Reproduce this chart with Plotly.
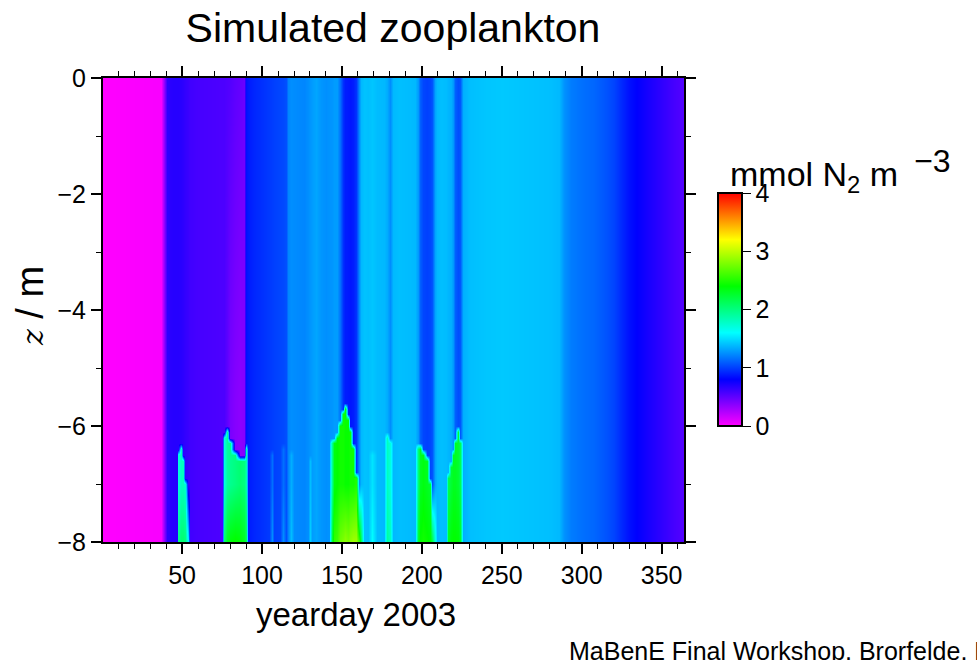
import plotly.graph_objects as go

# ---- concentration in the upper water column, per model output day ----
yearday = [0, 37, 40.5, 44, 46.5, 47.5, 49, 50.5, 52, 53.5,
           55, 60, 68, 75, 76.5, 78, 80, 83, 86, 88.5,
           89.7, 91, 95, 100, 104.5, 106, 107.5, 111.5, 113, 115,
           116.5, 118, 120, 126, 128.5, 130, 131.5, 134, 137, 140,
           142, 143.5, 145, 147, 149, 150.5, 152, 153.5, 155, 157,
           159, 160.5, 162, 163.5, 166, 169, 172, 176, 178, 180,
           182, 186, 192, 196, 197.5, 199, 201, 203, 205, 206.5,
           208, 209.5, 212, 215, 216.5, 218, 219.5, 221, 222.5, 224,
           225.5, 230, 240, 250, 260, 270, 280, 286, 289, 293,
           300, 308, 315, 320, 325, 330, 340, 350, 358, 365]

upper_n = [0.00, 0.02, 0.66, 0.68, 0.68, 0.68, 0.67, 0.66, 0.64, 0.62,
           0.60, 0.58, 0.57, 0.56, 0.56, 0.55, 0.54, 0.51, 0.49, 0.47,
           0.85, 0.88, 0.92, 0.95, 0.98, 0.99, 1.00, 1.02, 1.03, 1.05,
           1.22, 1.25, 1.24, 1.22, 1.25, 1.27, 1.29, 1.32, 1.27, 1.25,
           1.26, 1.27, 1.29, 1.29, 1.15, 0.95, 0.89, 0.88, 0.87, 0.89,
           0.96, 1.24, 1.38, 1.41, 1.40, 1.42, 1.39, 1.38, 1.34, 1.24,
           1.38, 1.40, 1.39, 1.38, 1.28, 1.10, 1.02, 1.00, 1.02, 1.06,
           1.32, 1.38, 1.40, 1.39, 1.37, 1.35, 1.28, 1.10, 1.04, 1.07,
           1.35, 1.40, 1.42, 1.43, 1.42, 1.41, 1.40, 1.38, 1.26, 1.19,
           1.15, 1.12, 1.06, 1.01, 0.92, 0.84, 0.74, 0.65, 0.58, 0.53]

# ---- depleted layer sitting on top of the near-bed maximum ----
cap_day = [78, 80, 83, 86, 88.5]
cap_n = [0.50, 0.42, 0.38, 0.36, 0.38]

# ---- near-bed maxima: top depth (m), value down to 7 m, value at the bed ----
bed_day = [47.5, 49, 50.5, 52, 53.5,
           76.5, 78, 80, 83, 86, 88.5, 89.7,
           106, 113, 118, 130,
           143.5, 145, 147, 149, 150.5, 152, 153.5, 155, 157, 159, 160.5, 162,
           169, 178, 180,
           197.5, 199, 201, 203, 205, 206.5, 208,
           216.5, 218, 219.5, 221, 222.5, 224]
bed_top = [-6.45, -6.4, -6.6, -6.95, -7.6,
           -6.2, -6.1, -6.3, -6.45, -6.55, -6.6, -6.35,
           -6.5, -6.4, -6.5, -6.6,
           -6.3, -6.25, -6.2, -5.95, -5.75, -5.7, -5.9, -6.1, -6.4, -6.9, -7.3, -7.7,
           -6.5, -6.2, -6.3,
           -6.4, -6.35, -6.45, -6.6, -6.95, -7.4, -7.9,
           -6.85, -6.65, -6.45, -6.3, -6.05, -6.25]
bed_plume_n = [1.70, 1.80, 1.80, 1.75, None,
               1.70, 1.90, 1.95, 2.00, 2.05, 2.00, 1.85,
               1.15, 1.15, 1.35, 1.40,
               1.95, 2.35, 2.40, 2.45, 2.45, 2.42, 2.42, 2.45, 2.45, 2.50, None, None,
               1.52, 1.80, 1.70,
               2.05, 2.30, 2.35, 2.30, 2.25, None, None,
               2.15, 2.25, 2.30, 2.30, 2.25, 2.15]
bed_n = [1.95, 2.05, 2.05, 2.00, 1.60,
         2.05, 2.30, 2.38, 2.42, 2.38, 2.30, 2.15,
         1.25, 1.25, 1.40, 1.45,
         2.25, 2.55, 2.60, 2.75, 2.80, 2.85, 2.80, 2.85, 2.90, 2.90, 2.60, 2.10,
         1.60, 1.90, 1.80,
         2.25, 2.42, 2.45, 2.42, 2.38, 2.20, 1.70,
         2.30, 2.38, 2.40, 2.40, 2.38, 2.28]

# model levels (m)
depth = [0.0, -5.6, -5.7, -5.8, -5.9, -6.0, -6.1, -6.2, -6.3, -6.4, -6.5,
         -6.6, -6.7, -6.8, -6.9, -7.0, -8.0]

xticks = [50, 100, 150, 200, 250, 300, 350]
yticks = [0, -2, -4, -6, -8]
cbar_ticks = [0, 1, 2, 3, 4]

# ---- assemble the depth x time field ----
cap = dict(zip(cap_day, cap_n))
bed = {d: (t, p, b) for d, t, p, b in zip(bed_day, bed_top, bed_plume_n, bed_n)}
assert all(d in yearday for d in list(cap) + list(bed))

field = []
for zlev in depth:
    row = []
    for day, top_val in zip(yearday, upper_n):
        low_val = cap.get(day, top_val)
        if zlev == 0.0:
            row.append(top_val)
            continue
        if day in bed:
            t, p, b = bed[day]
            if zlev == -8.0:
                row.append(b)
            elif zlev <= t + 1e-9:
                row.append(p)
            else:
                row.append(low_val)
        else:
            row.append(low_val)
    field.append(row)

rainbow = [[0.0, "#ff00ff"], [0.2, "#0000ff"], [0.4, "#00ffff"],
           [0.6, "#00ff00"], [0.8, "#ffff00"], [1.0, "#ff0000"]]

FONT = "Liberation Sans, Arial, sans-serif"

# plot frame in pixels
L, R, T, B = 103, 684, 78, 542
W, H = 977, 660
pw, ph = R - L, B - T

fig = go.Figure(go.Heatmap(
    x=yearday, y=depth, z=field,
    zmin=0, zmax=4, zsmooth="best",
    colorscale=rainbow,
    colorbar=dict(
        x=(718 - L) / pw, xanchor="left", xpad=0,
        y=0.5 - ((193 + 426) / 2 - (T + B) / 2) / ph, yanchor="middle", ypad=0,
        thickness=24, thicknessmode="pixels",
        len=233, lenmode="pixels",
        outlinewidth=2, outlinecolor="black",
        tickvals=cbar_ticks, ticks="outside", ticklen=8, tickwidth=1,
        tickcolor="black",
        tickfont=dict(family=FONT, size=25, color="black"),
    ),
    hoverinfo="skip",
))

axis_common = dict(
    showline=True, linecolor="black", linewidth=2, mirror="ticks",
    ticks="outside", ticklen=10, tickwidth=1.5, tickcolor="black",
    showgrid=False, zeroline=False,
    tickfont=dict(family=FONT, size=25, color="black"),
)

fig.update_xaxes(range=[0.5, 364], tickvals=xticks,
                 minor=dict(dtick=10, tick0=0, ticks="outside", ticklen=5,
                            tickwidth=1, tickcolor="black", showgrid=False),
                 **axis_common)
fig.update_yaxes(range=[-8, 0], tickvals=yticks,
                 minor=dict(dtick=1, tick0=0, ticks="outside", ticklen=5,
                            tickwidth=1, tickcolor="black", showgrid=False),
                 **axis_common)


def px_x(v):
    return (v - L) / pw


def px_y(v):
    return (B - v) / ph


fig.update_layout(
    width=W, height=H,
    margin=dict(l=L, r=W - R, t=T, b=H - B, pad=0),
    paper_bgcolor="white", plot_bgcolor="white",
    font=dict(family=FONT, color="black"),
    title=dict(text="Simulated zooplankton", x=393 / W, xanchor="center",
               y=1 - 28 / H, yanchor="middle",
               font=dict(family=FONT, size=41, color="black")),
    annotations=[
        dict(text="yearday 2003", x=px_x(356), y=px_y(614),
             xref="paper", yref="paper", showarrow=False,
             xanchor="center", yanchor="middle",
             font=dict(family=FONT, size=33, color="black")),
        dict(text="<span style='font-family:DejaVu Serif;font-size:30px'><i>z</i></span> / m",
             x=px_x(30), y=px_y(306), xref="paper", yref="paper",
             showarrow=False, textangle=-90,
             xanchor="center", yanchor="middle",
             font=dict(family=FONT, size=38, color="black")),
        dict(text="mmol N<sub>2</sub> m<sup><span style='font-size:32px'>\u2002\u22123</span></sup>",
             x=px_x(728), y=px_y(170), xref="paper", yref="paper",
             showarrow=False, xanchor="left", yanchor="middle",
             font=dict(family=FONT, size=34, color="black")),
        dict(text="MaBenE Final Workshop, Brorfelde, Denmark",
             x=px_x(567), y=px_y(651), xref="paper", yref="paper",
             showarrow=False, xanchor="left", yanchor="middle",
             font=dict(family=FONT, size=25, color="black")),
    ],
)

fig.write_html("out.html")
